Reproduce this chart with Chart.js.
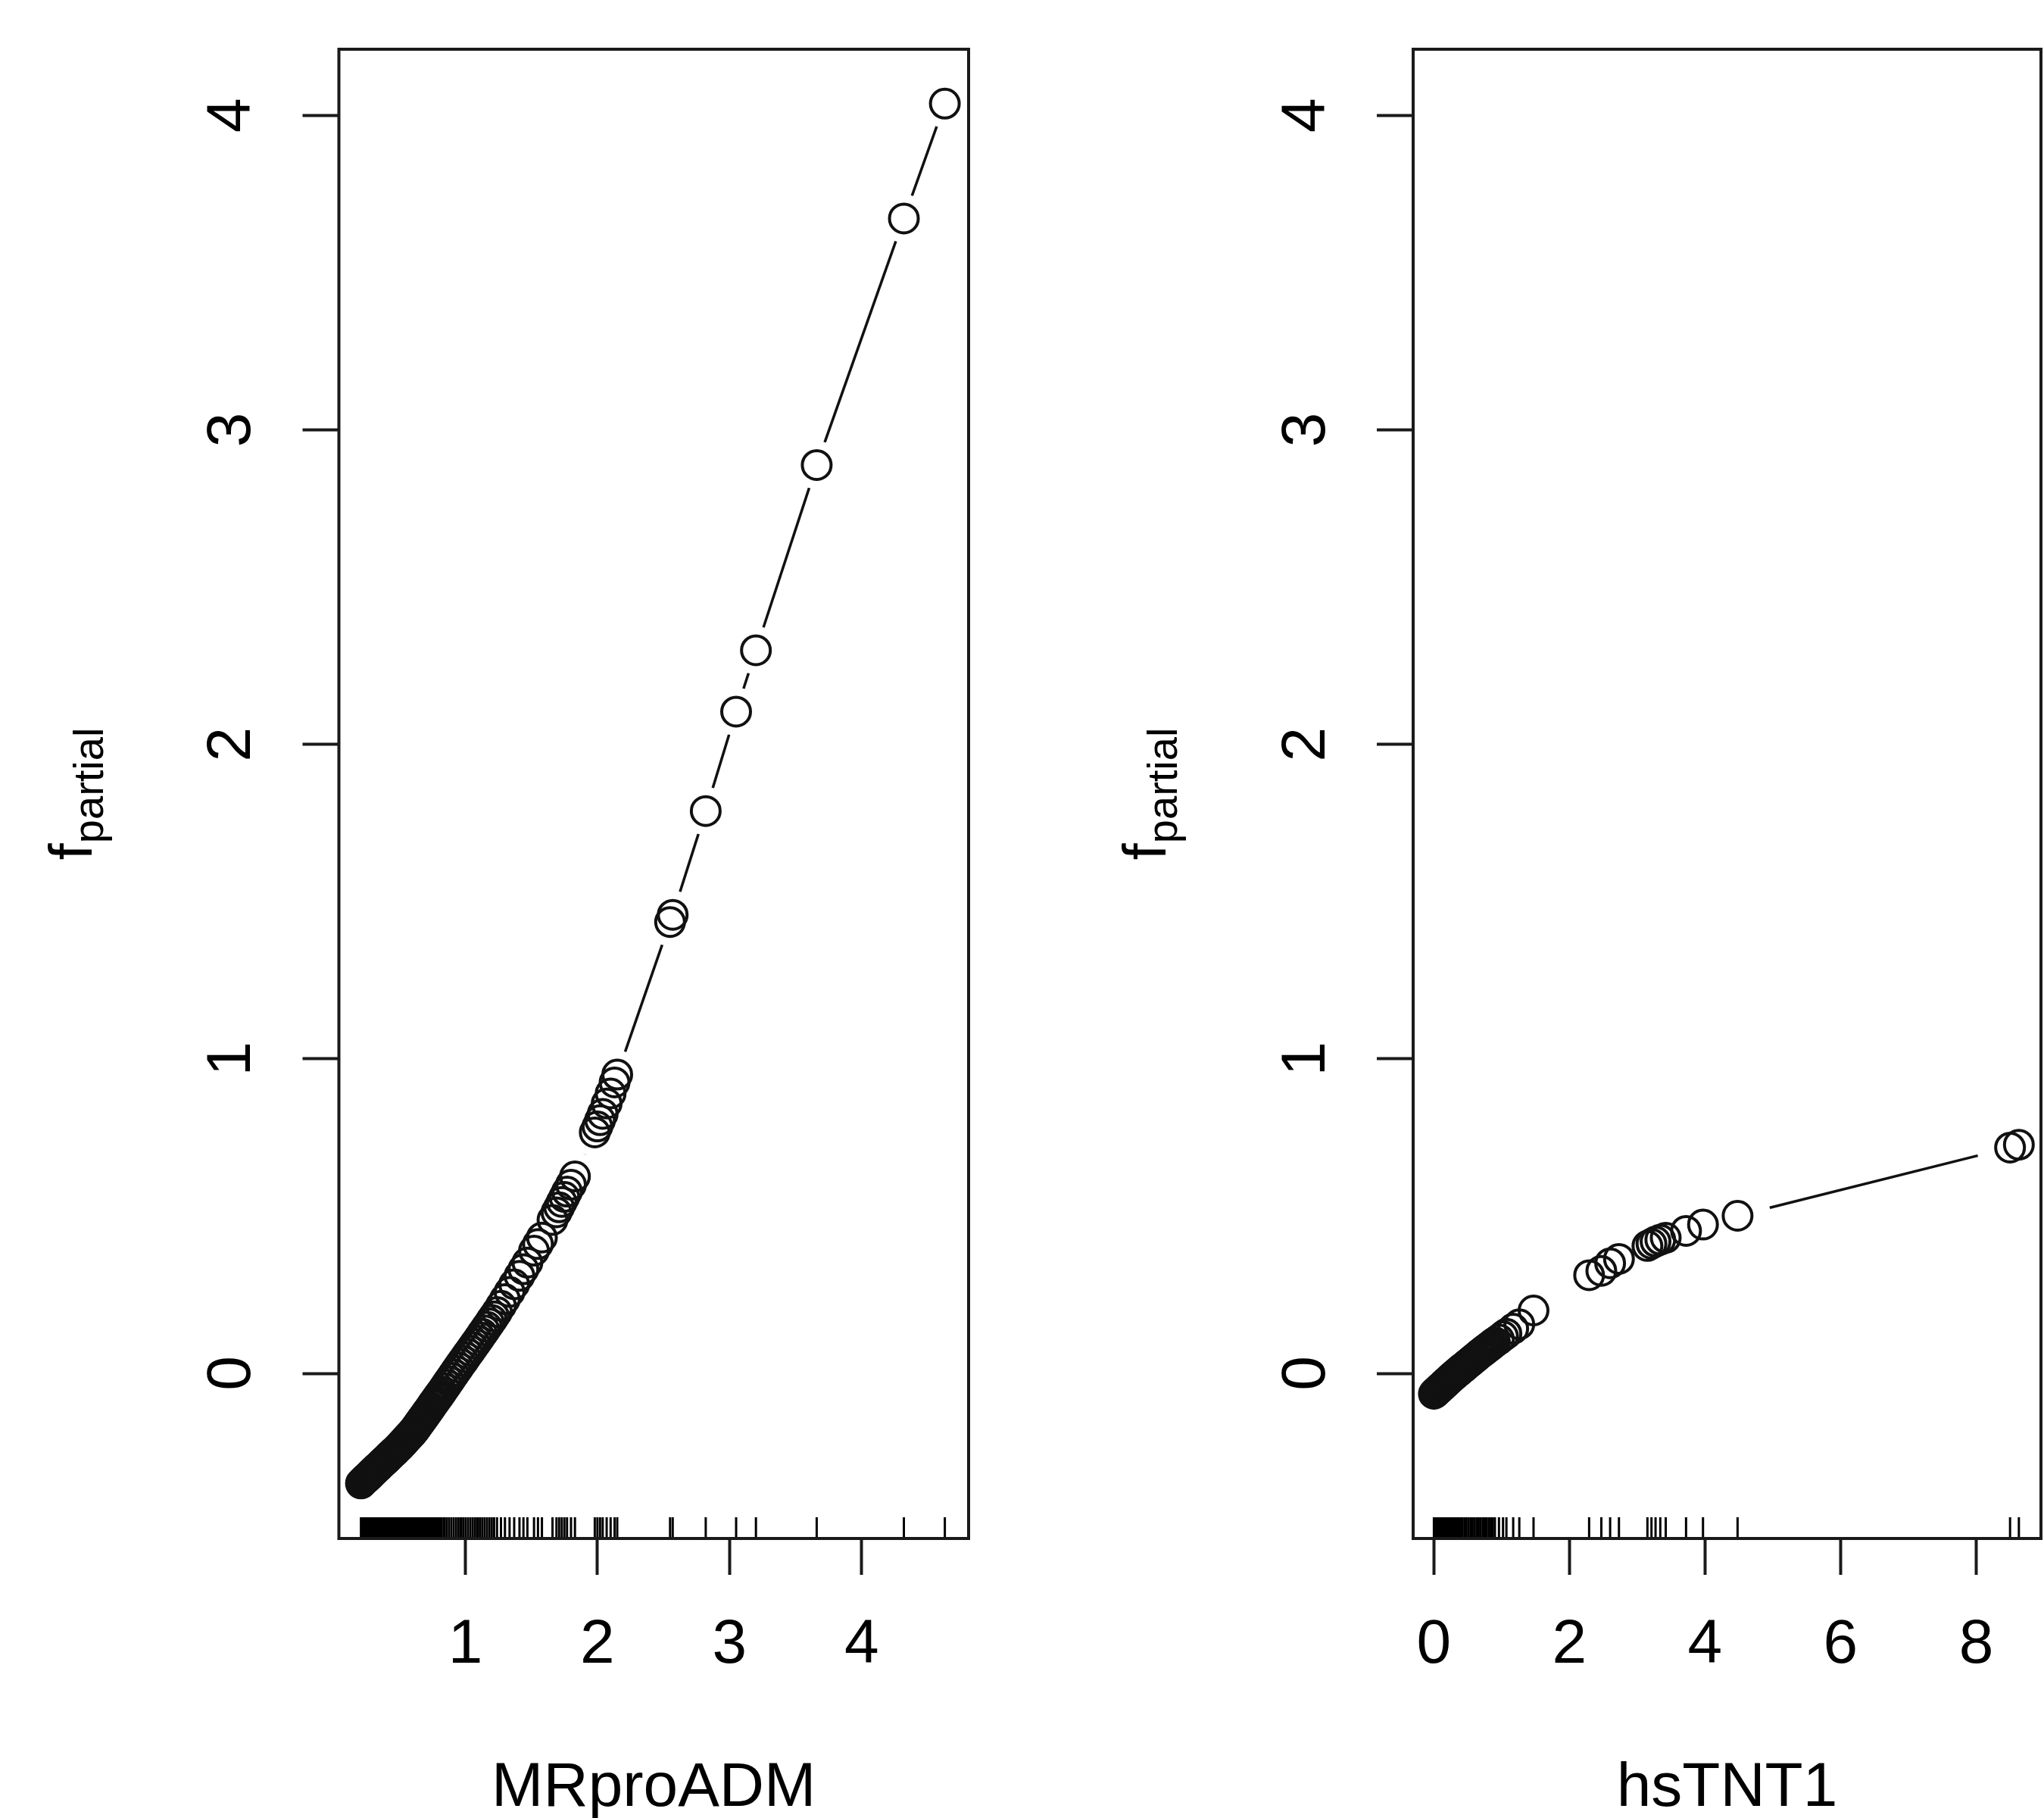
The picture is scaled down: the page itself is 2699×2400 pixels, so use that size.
<!DOCTYPE html>
<html>
<head>
<meta charset="utf-8">
<script src="https://cdn.jsdelivr.net/npm/chart.js@4.4.1/dist/chart.umd.min.js"></script>
<style>
html, body { margin: 0; padding: 0; background: #fff; overflow: hidden; }
#wrap { position: relative; width: 2699px; height: 2400px; overflow: hidden; }
canvas { position: absolute; top: 0; }
#chart-left { left: 0; }
#chart-right { left: 1400px; }
</style>
</head>
<body>
<div id="wrap">
  <canvas id="chart-left" width="1400" height="2440"></canvas>
  <canvas id="chart-right" width="1299" height="2440"></canvas>
</div>
<script>
// MRproADM panel
var mrproX = [0.210, 0.222, 0.234, 0.246, 0.258, 0.270, 0.282, 0.294, 0.306, 0.318,
    0.330, 0.342, 0.354, 0.366, 0.378, 0.390, 0.402, 0.414, 0.426, 0.438,
    0.450, 0.462, 0.474, 0.486, 0.498, 0.510, 0.522, 0.534, 0.546, 0.558,
    0.570, 0.582, 0.594, 0.606, 0.618, 0.630, 0.642, 0.654, 0.666, 0.678,
    0.690, 0.702, 0.714, 0.726, 0.738, 0.750, 0.762, 0.774, 0.786, 0.798,
    0.810, 0.822, 0.840, 0.858, 0.876, 0.894, 0.912, 0.930, 0.948, 0.966,
    0.984, 1.002, 1.020, 1.038, 1.056, 1.074, 1.092, 1.110, 1.128, 1.146,
    1.164, 1.182, 1.200, 1.218, 1.240, 1.270, 1.300, 1.335, 1.370, 1.410,
    1.440, 1.470, 1.520, 1.550, 1.580, 1.660, 1.690, 1.710, 1.730, 1.750,
    1.770, 1.800, 1.830, 1.980, 2.000, 2.020, 2.040, 2.070, 2.100, 2.130,
    2.150, 2.550, 2.570, 2.820, 3.050, 3.200, 3.660, 4.320, 4.630];
var mrproY = [-0.350, -0.345, -0.340, -0.335, -0.331, -0.326, -0.321, -0.316, -0.311, -0.306,
    -0.301, -0.297, -0.292, -0.287, -0.282, -0.278, -0.273, -0.268, -0.263, -0.258,
    -0.253, -0.249, -0.244, -0.239, -0.234, -0.229, -0.223, -0.218, -0.212, -0.207,
    -0.201, -0.196, -0.190, -0.185, -0.178, -0.171, -0.164, -0.157, -0.150, -0.143,
    -0.136, -0.129, -0.122, -0.115, -0.108, -0.100, -0.093, -0.086, -0.079, -0.072,
    -0.065, -0.058, -0.047, -0.036, -0.025, -0.014, -0.003, 0.008, 0.019, 0.030,
    0.040, 0.051, 0.062, 0.072, 0.083, 0.094, 0.104, 0.115, 0.126, 0.137,
    0.148, 0.159, 0.170, 0.181, 0.195, 0.215, 0.236, 0.259, 0.283, 0.310,
    0.331, 0.352, 0.390, 0.411, 0.432, 0.488, 0.512, 0.528, 0.545, 0.561,
    0.578, 0.600, 0.626, 0.766, 0.785, 0.805, 0.825, 0.858, 0.890, 0.925,
    0.950, 1.435, 1.458, 1.788, 2.104, 2.299, 2.888, 3.672, 4.037];

// hsTNT1 panel
var hstntX = [0.00, 0.02, 0.04, 0.06, 0.08, 0.10, 0.12, 0.14, 0.16, 0.18,
    0.20, 0.22, 0.24, 0.26, 0.28, 0.30, 0.32, 0.34, 0.36, 0.38,
    0.40, 0.42, 0.45, 0.48, 0.51, 0.54, 0.57, 0.60, 0.63, 0.66,
    0.69, 0.72, 0.75, 0.78, 0.81, 0.84, 0.87, 0.90, 0.96, 1.02,
    1.07, 1.17, 1.26, 1.47, 2.29, 2.47, 2.60, 2.73, 3.15, 3.21,
    3.27, 3.34, 3.42, 3.72, 3.97, 4.48, 8.50, 8.63];
var hstntY = [-0.065, -0.061, -0.057, -0.053, -0.049, -0.045, -0.041, -0.037, -0.033, -0.029,
    -0.025, -0.021, -0.017, -0.013, -0.009, -0.006, -0.002, 0.002, 0.005, 0.009,
    0.013, 0.016, 0.021, 0.027, 0.032, 0.037, 0.043, 0.048, 0.053, 0.059,
    0.064, 0.069, 0.074, 0.079, 0.084, 0.089, 0.094, 0.099, 0.108, 0.118,
    0.126, 0.142, 0.156, 0.200, 0.312, 0.326, 0.350, 0.364, 0.405, 0.412,
    0.419, 0.425, 0.431, 0.453, 0.473, 0.501, 0.718, 0.727];

var mrproTicks = [1, 2, 3, 4];
var hstntTicks = [0, 2, 4, 6, 8];
var fTicks = [0, 1, 2, 3, 4];

var FONT = '"Liberation Sans", Arial, Helvetica, sans-serif';

// rug, frame and the f_partial label (subscript)
var framePlugin = {
    id: 'frame',
    afterDatasetsDraw: function (chart, args, opts) {
        var ctx = chart.ctx, area = chart.chartArea, xs = chart.scales.x;
        ctx.save();
        ctx.strokeStyle = '#000';
        ctx.lineWidth = opts.rugWidth;
        opts.rug.forEach(function (v) {
            var px = xs.getPixelForValue(v);
            ctx.beginPath();
            ctx.moveTo(px, area.bottom);
            ctx.lineTo(px, area.bottom - opts.rugLength);
            ctx.stroke();
        });
        ctx.lineWidth = 4;
        ctx.strokeStyle = '#1a1a1a';
        ctx.strokeRect(area.left, area.top, area.right - area.left, area.bottom - area.top);
        ctx.restore();
    },
    afterDraw: function (chart, args, opts) {
        var ctx = chart.ctx, area = chart.chartArea;
        ctx.save();
        ctx.fillStyle = '#000';
        ctx.textBaseline = 'alphabetic';
        ctx.textAlign = 'left';
        ctx.font = '80px ' + FONT;
        var wf = ctx.measureText('f').width;
        ctx.font = '56px ' + FONT;
        var wp = ctx.measureText('partial').width;
        ctx.translate(area.left - 327, (area.top + area.bottom) / 2);
        ctx.rotate(-Math.PI / 2);
        var start = -(wf + wp) / 2;
        ctx.font = '80px ' + FONT;
        ctx.fillText('f', start, 0);
        ctx.font = '56px ' + FONT;
        ctx.fillText('partial', start + wf, 15);
        ctx.restore();
    }
};

function noPadding(s) {
    s.paddingLeft = 0;
    s.paddingRight = 0;
    s.paddingTop = 0;
    s.paddingBottom = 0;
}

function makePanel(id, xs, ys, xTicks, xMin, xMax, xTitle, box) {
    var pts = xs.map(function (v, i) { return { x: v, y: ys[i] }; });
    return new Chart(document.getElementById(id), {
        type: 'scatter',
        data: {
            datasets: [{
                data: pts,
                pointRadius: 19,
                pointBorderWidth: 4,
                pointBorderColor: '#111',
                pointBackgroundColor: 'rgba(0,0,0,0)',
                showLine: false,
                order: 1
            }, {
                data: pts,
                pointRadius: box.gap,
                pointBorderWidth: 0,
                pointBorderColor: '#fff',
                pointBackgroundColor: '#fff',
                showLine: false,
                order: 2
            }, {
                data: pts,
                pointRadius: 0,
                showLine: true,
                borderColor: '#111',
                borderWidth: 3.5,
                order: 3
            }]
        },
        options: {
            responsive: false,
            animation: false,
            events: [],
            layout: { autoPadding: false, padding: { left: 0, right: box.right, top: 65, bottom: 0 } },
            plugins: {
                legend: { display: false },
                tooltip: { enabled: false },
                frame: { rug: xs, rugLength: 28, rugWidth: 3 }
            },
            scales: {
                x: {
                    type: 'linear',
                    min: xMin,
                    max: xMax,
                    afterFit: function (s) { s.height = 409; noPadding(s); },
                    afterBuildTicks: function (s) { s.ticks = xTicks.map(function (v) { return { value: v }; }); },
                    grid: { drawOnChartArea: false, drawTicks: true, tickLength: 48, tickWidth: 4, tickColor: '#1a1a1a' },
                    border: { display: false },
                    ticks: { font: { family: FONT, size: 82 }, color: '#000', padding: 44, maxRotation: 0, autoSkip: false },
                    title: { display: true, text: xTitle, font: { family: FONT, size: 82 }, color: '#000', padding: { top: 0, bottom: 29 } }
                },
                y: {
                    type: 'linear',
                    min: -0.525,
                    max: 4.21,
                    afterFit: function (s) { s.width = box.left; noPadding(s); },
                    afterBuildTicks: function (s) { s.ticks = fTicks.map(function (v) { return { value: v }; }); },
                    grid: { drawOnChartArea: false, drawTicks: true, tickLength: 48, tickWidth: 4, tickColor: '#1a1a1a' },
                    border: { display: false },
                    ticks: { font: { family: FONT, size: 82 }, color: '#000', padding: 69, minRotation: 90, maxRotation: 90, crossAlign: 'center' }
                }
            }
        },
        plugins: [framePlugin]
    });
}

makePanel('chart-left', mrproX, mrproY, mrproTicks, 0.043, 4.81, 'MRproADM', { left: 447.5, right: 121, gap: 32 });
makePanel('chart-right', hstntX, hstntY, hstntTicks, -0.306, 8.956, 'hsTNT1', { left: 466, right: 4, gap: 44 });
</script>
</body>
</html>
